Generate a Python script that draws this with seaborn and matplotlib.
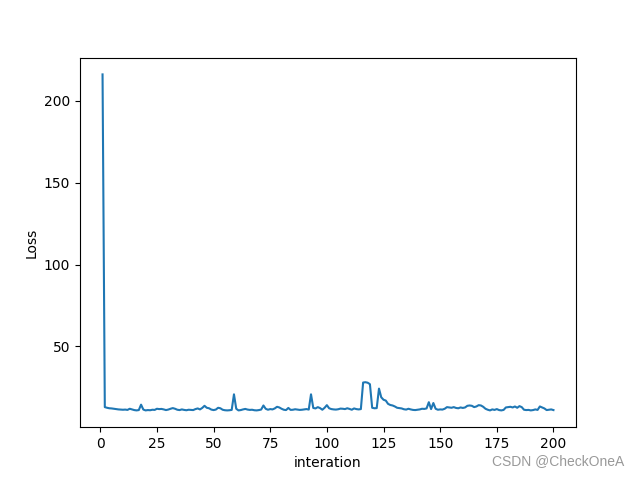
import matplotlib
matplotlib.use("Agg")
import matplotlib.pyplot as plt
import seaborn as sns

# Loss per iteration
iterations = list(range(1, 201))
loss = [
    216.0, 13.0, 12.6, 12.3, 12.2, 12.0, 11.8, 11.6, 11.5, 11.4,
    11.5, 11.3, 12.0, 11.6, 11.2, 11.0, 11.2, 14.5, 11.5, 11.0,
    11.2, 11.1, 11.4, 11.3, 12.0, 11.8, 11.9, 11.6, 11.2, 11.5,
    12.0, 12.4, 12.0, 11.4, 11.2, 11.6, 11.3, 11.1, 11.4, 11.3,
    11.2, 11.8, 12.2, 11.6, 12.5, 13.8, 12.6, 12.3, 11.5, 11.2,
    11.5, 12.6, 12.3, 11.4, 11.1, 11.0, 11.1, 11.3, 20.8, 12.0,
    11.0, 11.2, 11.6, 11.9, 11.5, 11.3, 11.4, 11.1, 11.0, 11.2,
    11.5, 14.0, 12.0, 11.4, 11.8, 11.6, 12.2, 13.2, 12.8, 12.0,
    11.4, 11.2, 12.5, 11.3, 11.4, 11.7, 11.5, 11.3, 11.4, 11.6,
    11.8, 11.5, 20.8, 12.5, 12.2, 13.0, 12.4, 11.4, 12.6, 14.2,
    12.3, 11.8, 11.6, 11.5, 11.7, 12.1, 12.0, 11.8, 12.3, 11.9,
    11.4, 12.2, 11.8, 11.6, 11.8, 28.0, 28.2, 27.9, 27.0, 12.6,
    12.3, 12.4, 24.3, 19.0, 17.5, 17.0, 15.0, 14.3, 14.0, 13.4,
    12.6, 12.4, 12.2, 11.7, 11.5, 12.0, 11.6, 11.3, 11.2, 11.4,
    11.6, 12.0, 11.9, 12.2, 16.0, 11.8, 15.5, 12.0, 11.4, 11.6,
    11.5, 12.0, 13.0, 12.8, 12.6, 13.0, 12.5, 12.3, 12.8, 12.5,
    12.8, 13.8, 14.0, 13.8, 13.0, 13.4, 14.2, 14.0, 13.2, 12.0,
    11.4, 11.0, 11.6, 11.3, 11.8, 11.2, 11.0, 11.3, 12.8, 13.0,
    13.2, 12.8, 13.4, 12.6, 13.6, 13.0, 11.4, 11.2, 11.3, 11.0,
    11.2, 11.6, 11.3, 13.4, 12.8, 12.2, 11.2, 11.4, 11.6, 11.2,
]

fig, ax = plt.subplots(figsize=(6.4, 4.8), dpi=100)
sns.lineplot(x=iterations, y=loss, ax=ax, color='C0')
ax.set_xlabel('interation')
ax.set_ylabel('Loss')
ax.set_xticks([0, 25, 50, 75, 100, 125, 150, 175, 200])

# watermark
fig.text(0.975, 0.025, 'CSDN @CheckOneA', ha='right', va='bottom',
         color='#999999', fontsize=10, family='Liberation Sans')

plt.savefig('out.png', dpi=100)
